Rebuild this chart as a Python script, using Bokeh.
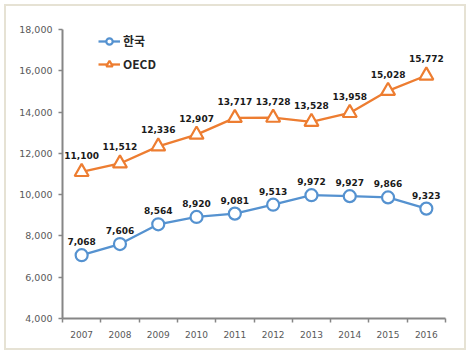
import numpy as np
from bokeh.plotting import figure
from bokeh.models import (ColumnDataSource, FixedTicker, NumeralTickFormatter, LabelSet,
                          Legend, LegendItem, Range1d, InlineStyleSheet)
from bokeh.core.properties import value
from bokeh.embed import file_html
from bokeh.resources import INLINE

years = ["2007", "2008", "2009", "2010", "2011", "2012", "2013", "2014", "2015", "2016"]
korea = [7068, 7606, 8564, 8920, 9081, 9513, 9972, 9927, 9866, 9323]
oecd = [11100, 11512, 12336, 12907, 13717, 13728, 13528, 13958, 15028, 15772]
y_ticks = [4000, 6000, 8000, 10000, 12000, 14000, 16000, 18000]
series_names = ["한국", "OECD"]

BLUE = "#5592d0"
ORANGE = "#ed7d31"

xs = list(range(len(years)))
src = ColumnDataSource(dict(
    x=xs, korea=korea, oecd=oecd,
    korea_lbl=[f"{v:,}" for v in korea],
    oecd_lbl=[f"{v:,}" for v in oecd],
))

p = figure(width=470, height=354, output_backend="svg", toolbar_location=None,
           x_range=Range1d(-0.5, len(years) - 0.5), y_range=Range1d(y_ticks[0], y_ticks[-1]),
           min_border_left=62, min_border_right=25, min_border_top=29, min_border_bottom=36)
p.outline_line_color = None
p.grid.visible = False
p.background_fill_color = "white"
p.border_fill_color = None
p.stylesheets = [InlineStyleSheet(css=":host { background: #ffffff; "
                                      "box-shadow: inset 0 0 0 4px #ffffff, inset 0 0 0 6px #e6e2d4; }")]

# axes
xa = p.xaxis[0]
xa.ticker = FixedTicker(ticks=xs, minor_ticks=[i - 0.5 for i in range(len(years) + 1)])
xa.major_label_overrides = {i: y for i, y in enumerate(years)}
xa.major_tick_line_color = None
xa.minor_tick_line_color = "#868686"
xa.minor_tick_line_width = 1.5
xa.minor_tick_out = 4
xa.minor_tick_in = 0
xa.axis_line_color = "#868686"
xa.axis_line_width = 2
xa.major_label_text_font = "DejaVu Sans"
xa.major_label_text_font_size = "9px"
xa.major_label_text_color = "#595959"
xa.major_label_standoff = 6

ya = p.yaxis[0]
ya.ticker = FixedTicker(ticks=y_ticks)
ya.formatter = NumeralTickFormatter(format="0,0")
ya.minor_tick_line_color = None
ya.major_tick_line_color = "#868686"
ya.major_tick_line_width = 1.5
ya.major_tick_out = 4
ya.major_tick_in = 0
ya.axis_line_color = "#868686"
ya.axis_line_width = 2
ya.major_label_text_font = "DejaVu Sans"
ya.major_label_text_font_size = "9.5px"
ya.major_label_text_color = "#595959"
ya.major_label_standoff = 6

# series
kl = p.line("x", "korea", source=src, color=BLUE, line_width=2.3)
km = p.scatter("x", "korea", source=src, marker="circle", size=12, fill_color="white",
               line_color=BLUE, line_width=2.2)
ol = p.line("x", "oecd", source=src, color=ORANGE, line_width=2.3)
om = p.scatter("x", "oecd", source=src, marker="triangle", size=14, fill_color="white",
               line_color=ORANGE, line_width=2.2)

for col, lbl, off in (("korea", "korea_lbl", 10), ("oecd", "oecd_lbl", 13)):
    p.add_layout(LabelSet(x="x", y=col, text=lbl, source=src, y_offset=off,
                          text_align="center", text_baseline="bottom",
                          text_font=value("DejaVu Sans"), text_font_style="bold",
                          text_font_size="9px", text_color="#1a1a1a"))

legend = Legend(items=[LegendItem(label=series_names[0], renderers=[kl, km]),
                       LegendItem(label=series_names[1], renderers=[ol, om])],
                location=(36, 246), orientation="vertical",
                background_fill_alpha=0, border_line_color=None,
                glyph_width=22, glyph_height=16, label_standoff=3, spacing=6,
                padding=0, margin=0,
                label_text_font="Noto Sans CJK KR", label_text_font_style="bold",
                label_text_font_size="12px", label_text_color="#262626")
p.add_layout(legend)

open("out.html", "w").write(file_html(p, INLINE))
